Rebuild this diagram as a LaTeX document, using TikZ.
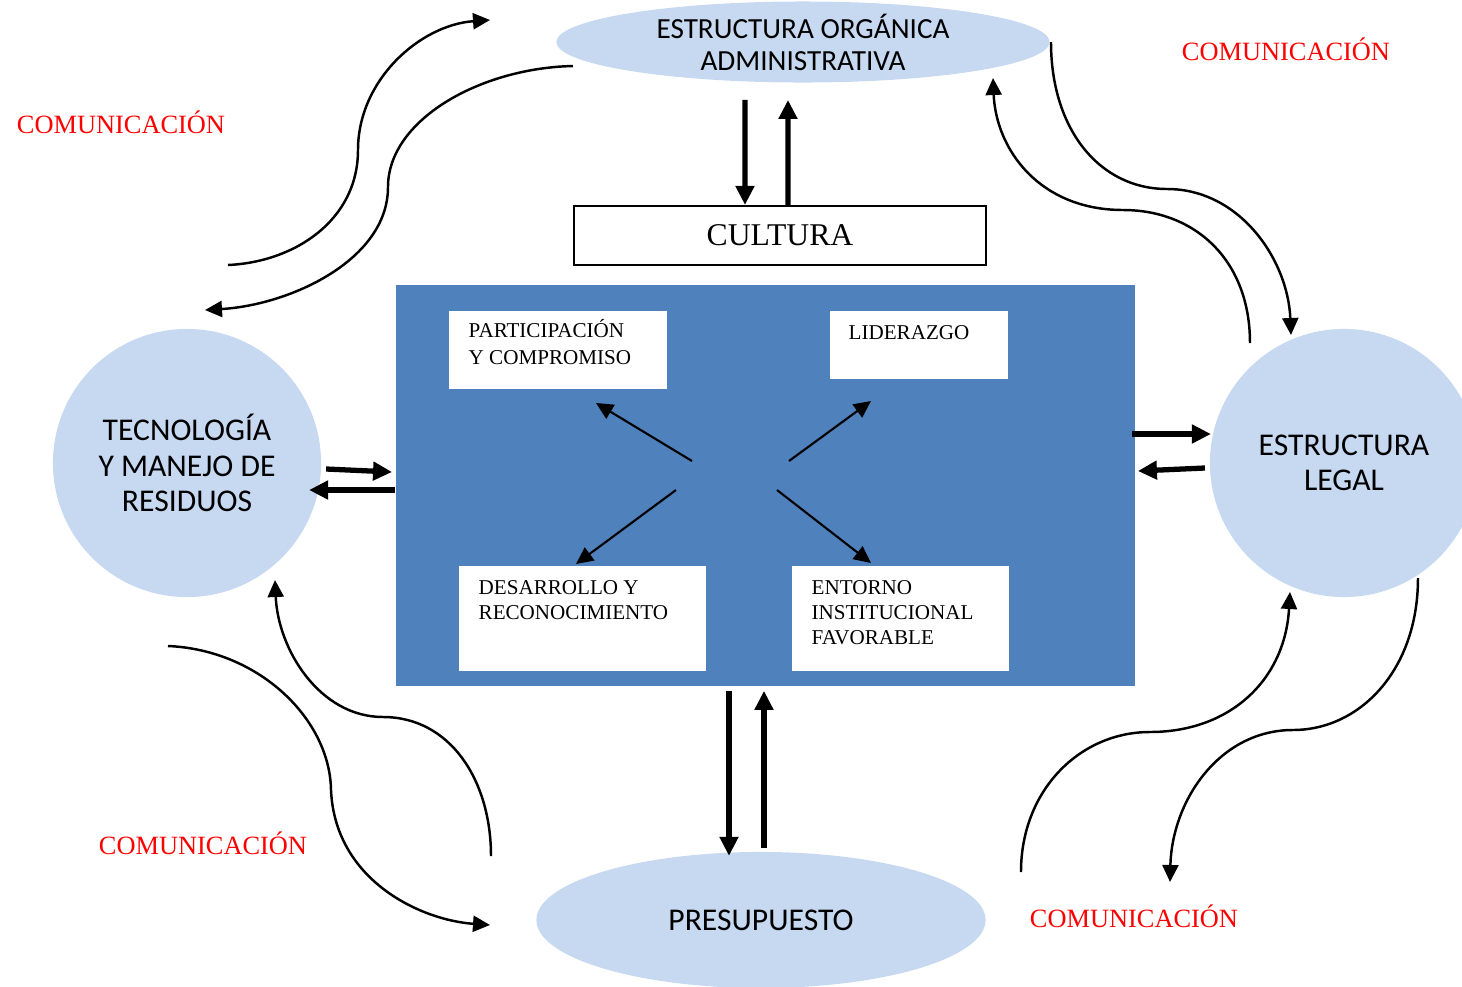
\documentclass[tikz,border=0pt]{standalone}
\usepackage{fontspec}
\setmainfont{Liberation Serif}
\newfontfamily\calibrifont{Carlito}
\usetikzlibrary{arrows.meta, shapes.geometric}

\definecolor{paleblue}{RGB}{198,217,241}
\definecolor{coreblue}{RGB}{79,129,189}

\begin{document}
\begin{tikzpicture}[
    x=0.01cm, y=-0.01cm,
    oval/.style={ellipse, fill=paleblue, inner sep=0pt, align=center,
                 font=\calibrifont\fontsize{8.3}{9.1}\selectfont},
    disc/.style={circle, fill=paleblue, minimum size=2.68cm, inner sep=0pt,
                 align=center, font=\calibrifont\fontsize{9}{10.1}\selectfont},
    wbox/.style={fill=white, anchor=north west, inner sep=0pt},
    wtext/.style={anchor=north west, inner sep=0pt, align=left,
                  font=\fontsize{6}{7.1}\selectfont},
    comm/.style={text=red, font=\fontsize{7.5}{8}\selectfont},
    duo/.style={line width=1.5pt, -{Triangle[length=1.9mm, width=1.8mm]}},
    flow/.style={line width=0.7pt, -{Triangle[length=1.7mm, width=1.6mm]}},
    spoke/.style={line width=0.6pt, -{Triangle[length=1.7mm, width=1.6mm]}}
  ]
  \useasboundingbox (0,0) rectangle (1462,987);
  \clip (0,0) rectangle (1462,987);

  % main blocks
  \node[oval, minimum width=4.93cm, minimum height=0.81cm] (orga) at (803,42)
    {ESTRUCTURA ORGÁNICA\\ADMINISTRATIVA};
  \node[draw, line width=0.6pt, minimum width=4.12cm, minimum height=0.59cm,
        font=\fontsize{9}{10}\selectfont] (cultura) at (780,235.5) {CULTURA};
  \node[fill=coreblue, minimum width=7.39cm, minimum height=4.01cm,
        inner sep=0pt] (nucleo) at (765.5,485.5) {};
  \node[disc] (tecno) at (187,463) {TECNOLOGÍA\\Y MANEJO DE\\RESIDUOS};
  \node[disc] (legal) at (1344,463) {ESTRUCTURA\\LEGAL};
  \node[oval, minimum width=4.49cm, minimum height=1.36cm,
        font=\calibrifont\fontsize{9}{10}\selectfont] (presu) at (761,920)
    {PRESUPUESTO};

  % white boxes inside the blue block
  \node[wbox, minimum width=2.18cm, minimum height=0.78cm] (part) at (448,310) {};
  \node[wtext, font=\fontsize{6}{7.7}\selectfont] (partT) at (468,319)
    {PARTICIPACIÓN\\Y COMPROMISO};
  \node[wbox, minimum width=1.78cm, minimum height=0.68cm] (lid) at (829,310) {};
  \node[wtext] (lidT) at (848,325) {LIDERAZGO};
  \node[wbox, minimum width=2.47cm, minimum height=1.05cm] (desa) at (458,565) {};
  \node[wtext] (desaT) at (478,580) {DESARROLLO Y\\RECONOCIMIENTO};
  \node[wbox, minimum width=2.17cm, minimum height=1.05cm] (ento) at (791,565) {};
  \node[wtext] (entoT) at (811,580) {ENTORNO\\INSTITUCIONAL\\FAVORABLE};

  % spokes
  \draw[spoke] ([shift={(-73.5,-24.5)}]nucleo.center) -- ([shift={(-169.5,-82.5)}]nucleo.center);
  \draw[spoke] ([shift={(23.5,-24.5)}]nucleo.center) -- ([shift={(105.5,-84.5)}]nucleo.center);
  \draw[spoke] ([shift={(-89.5,4.5)}]nucleo.center) -- ([shift={(-189.5,78.5)}]nucleo.center);
  \draw[spoke] ([shift={(11.5,4.5)}]nucleo.center) -- ([shift={(105.5,77.5)}]nucleo.center);

  % two-way arrows
  \draw[duo] ([shift={(-35,-105)}]cultura.north) -- ([xshift=-3.5mm]cultura.north);
  \draw[duo] ([xshift=0.8mm]cultura.north) -- ([shift={(8,-105)}]cultura.north);
  \draw[duo] ([shift={(-36.5,4)}]nucleo.south) -- ([shift={(-36.5,169)}]nucleo.south);
  \draw[duo] ([shift={(-1.5,161)}]nucleo.south) -- ([shift={(-1.5,4)}]nucleo.south);
  \draw[duo] ([shift={(-69,-16.5)}]nucleo.west) -- ([shift={(-3,-13.5)}]nucleo.west);
  \draw[duo] ([shift={(0,4.5)}]nucleo.west) -- ([shift={(-86,4.5)}]nucleo.west);
  \draw[duo] ([shift={(-4,-51.5)}]nucleo.east) -- ([shift={(75,-51.5)}]nucleo.east);
  \draw[duo] ([shift={(69,-17.5)}]nucleo.east) -- ([shift={(2,-14.5)}]nucleo.east);

  % communication flows
  \coordinate (tlA0) at (228,265);  \coordinate (tlA1) at (490,20);
  \coordinate (tlB0) at (573,66);   \coordinate (tlB1) at (205,310);
  \coordinate (trA0) at (1051,42);  \coordinate (trA1) at (1291,335);
  \coordinate (trB0) at (1250,343); \coordinate (trB1) at (993,78);
  \coordinate (blA0) at (168,646);  \coordinate (blA1) at (490,925);
  \coordinate (blB0) at (491,856);  \coordinate (blB1) at (275,580);
  \coordinate (brA0) at (1021,872); \coordinate (brA1) at (1290,592);
  \coordinate (brB0) at (1418,578); \coordinate (brB1) at (1170,882);

  \draw[flow] (tlA0) .. controls (295,262) and (358,220) .. (358,150)
    .. controls (358,80) and (420,25) .. (tlA1);
  \draw[flow] (tlB0) .. controls (480,68) and (388,120) .. (388,187)
    .. controls (388,260) and (290,305) .. (tlB1);
  \draw[flow] (trA0) .. controls (1051,130) and (1100,189) .. (1167,189)
    .. controls (1240,189) and (1288,260) .. (trA1);
  \draw[flow] (trB0) .. controls (1250,260) and (1195,210) .. (1123,210)
    .. controls (1040,210) and (996,150) .. (trB1);
  \draw[flow] (blA0) .. controls (260,650) and (330,720) .. (331,790)
    .. controls (335,880) and (420,920) .. (blA1);
  \draw[flow] (blB0) .. controls (491,780) and (450,717) .. (383,717)
    .. controls (320,717) and (278,650) .. (blB1);
  \draw[flow] (brA0) .. controls (1021,790) and (1080,732) .. (1150,732)
    .. controls (1230,732) and (1285,680) .. (brA1);
  \draw[flow] (brB0) .. controls (1418,670) and (1360,730) .. (1293,730)
    .. controls (1220,730) and (1172,800) .. (brB1);

  \node[comm] (comTL) at (121,122) {COMUNICACIÓN};
  \node[comm] (comTR) at (1286,49) {COMUNICACIÓN};
  \node[comm] (comBL) at (203,843) {COMUNICACIÓN};
  \node[comm] (comBR) at (1134,916) {COMUNICACIÓN};
\end{tikzpicture}
\end{document}
